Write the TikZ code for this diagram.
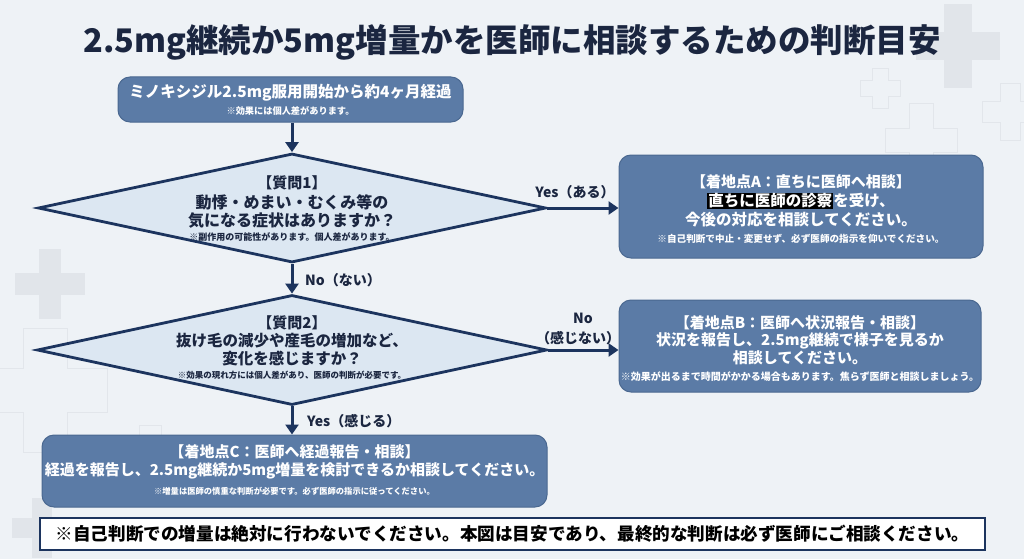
\documentclass[tikz,border=0pt]{standalone}
\usepackage{fontspec}
\setmainfont{Noto Sans CJK JP}
\usetikzlibrary{arrows.meta,shapes.geometric}
\definecolor{bgc}{HTML}{EEF2F6}
\definecolor{titlec}{HTML}{1B2640}
\definecolor{boxfill}{HTML}{5B7BA6}
\definecolor{boxline}{HTML}{4A6890}
\definecolor{diafill}{HTML}{DCE7F2}
\definecolor{navy}{HTML}{1C345E}
\definecolor{crossf}{HTML}{E1E5EA}
\definecolor{crossl}{HTML}{E2E6EB}
\newcommand\myfs[1]{\fontsize{#1}{#1}\selectfont}
\newcommand\plusfill[4]{\fill[crossf] ({#1-#3},{#2-#4}) rectangle ({#1+#3},{#2+#4}); \fill[crossf] ({#1-#4},{#2-#3}) rectangle ({#1+#4},{#2+#3});}
\newcommand\plusline[4]{\draw[crossl,line width=1pt] ({#1-#4},{#2-#3}) -- ({#1+#4},{#2-#3}) -- ({#1+#4},{#2-#4}) -- ({#1+#3},{#2-#4}) -- ({#1+#3},{#2+#4}) -- ({#1+#4},{#2+#4}) -- ({#1+#4},{#2+#3}) -- ({#1-#4},{#2+#3}) -- ({#1-#4},{#2+#4}) -- ({#1-#3},{#2+#4}) -- ({#1-#3},{#2-#4}) -- ({#1-#4},{#2-#4}) -- cycle;}
\begin{document}
\begin{tikzpicture}[x=1pt,y=-1pt,
  box/.style={draw=boxline,line width=1pt,fill=boxfill,rounded corners=12pt,inner sep=0pt},
  dia/.style={shape=diamond,draw=navy,line width=2.8pt,fill=diafill,inner sep=0pt},
  wt/.style={text=white,font=\bfseries,inner sep=0pt,anchor=center},
  dt/.style={text=titlec,font=\bfseries,inner sep=0pt,anchor=center},
  lbl/.style={text=titlec,font=\bfseries\myfs{14},inner sep=0pt},
  arr/.style={draw=navy,line width=3pt,-{Triangle[length=10pt,width=13pt]}}]
\useasboundingbox (0,0) rectangle (1024,559);
\fill[bgc] (0,0) rectangle (1024,559);
% decorative background crosses
\plusfill{958}{46}{42}{14}
\plusfill{50}{284}{35}{11}
\plusfill{42}{528}{30}{10}
\plusline{880}{89}{20}{8}
\plusline{921}{140}{36}{12}
\plusline{1010}{112}{28}{10}
\plusline{45}{390}{62}{22}
\plusline{150}{455}{30}{11}
% title
\node[dt,font=\bfseries\myfs{32.5}] (title) at (512,42) {2.5mg継続か5mg増量かを医師に相談するための判断目安};
% start
\node[box,minimum width=345pt,minimum height=45pt] (start) at (290.5,99.5) {};
\node[wt,font=\bfseries\myfs{15.5}] (start1) at (290.5,93) {ミノキシジル2.5mg服用開始から約4ヶ月経過};
\node[wt,font=\bfseries\myfs{9.2}] (start2) at (290.5,111) {※効果には個人差があります。};
% Q1
\node[dia,minimum width=508pt,minimum height=109pt] (q1) at (292,208) {};
\node[dt,font=\bfseries\myfs{15}] (q1a) at (292,183) {【質問1】};
\node[dt,font=\bfseries\myfs{16}] (q1b) at (292,202) {動悸・めまい・むくみ等の};
\node[dt,font=\bfseries\myfs{16}] (q1c) at (292,221) {気になる症状はありますか？};
\node[dt,font=\bfseries\myfs{9}] (q1d) at (292,237) {※副作用の可能性があります。個人差があります。};
% A
\node[box,minimum width=364pt,minimum height=103pt] (a) at (801,206.5) {};
\node[wt,font=\bfseries\myfs{15}] (a1) at (801,182) {【着地点A：直ちに医師へ相談】};
\node[wt,font=\bfseries\myfs{15.5}] (a2) at (801,201) {\setlength{\fboxsep}{1pt}\colorbox{black}{直ちに医師の診察}を受け、};
\node[wt,font=\bfseries\myfs{15.5}] (a3) at (801,220) {今後の対応を相談してください。};
\node[wt,font=\bfseries\myfs{9.6}] (a4) at (801,239) {※自己判断で中止・変更せず、必ず医師の指示を仰いでください。};
% Q2
\node[dia,minimum width=510pt,minimum height=110pt] (q2) at (292,350) {};
\node[dt,font=\bfseries\myfs{15}] (q2a) at (292,323) {【質問2】};
\node[dt,font=\bfseries\myfs{15.5}] (q2b) at (292,341) {抜け毛の減少や産毛の増加など、};
\node[dt,font=\bfseries\myfs{15.5}] (q2c) at (292,359) {変化を感じますか？};
\node[dt,font=\bfseries\myfs{8.5}] (q2d) at (292,375) {※効果の現れ方には個人差があり、医師の判断が必要です。};
% B
\node[box,minimum width=362pt,minimum height=92pt] (b) at (800,346) {};
\node[wt,font=\bfseries\myfs{15}] (b1) at (800,323) {【着地点B：医師へ状況報告・相談】};
\node[wt,font=\bfseries\myfs{15}] (b2) at (800,341) {状況を報告し、2.5mg継続で様子を見るか};
\node[wt,font=\bfseries\myfs{15}] (b3) at (800,358) {相談してください。};
\node[wt,font=\bfseries\myfs{10}] (b4) at (800,377) {※効果が出るまで時間がかかる場合もあります。焦らず医師と相談しましょう。};
% C
\node[box,minimum width=505pt,minimum height=72pt] (c) at (294.5,471) {};
\node[wt,font=\bfseries\myfs{15}] (c1) at (294.5,452) {【着地点C：医師へ経過報告・相談】};
\node[wt,font=\bfseries\myfs{15}] (c2) at (294.5,471) {経過を報告し、2.5mg継続か5mg増量を検討できるか相談してください。};
\node[wt,font=\bfseries\myfs{8.3}] (c3) at (294.5,491) {※増量は医師の慎重な判断が必要です。必ず医師の指示に従ってください。};
% note
\node[draw=navy,line width=2pt,fill=white,minimum width=945pt,minimum height=32pt,inner sep=0pt,text=black,font=\bfseries\myfs{17.6}] (note) at (512.5,534) {※自己判断での増量は絶対に行わないでください。本図は目安であり、最終的な判断は必ず医師にご相談ください。};
% connectors
\draw[arr] (start.south -| q1.north) -- (q1.north);
\draw[arr] (q1.east) -- (q1.east -| a.west);
\draw[arr] (q1.south) -- (q2.north);
\draw[arr] (q2.east) -- (q2.east -| b.west);
\draw[arr] (q2.south) -- (q2.south |- c.north);
% labels
\node[lbl] (l1) at (575,192) {Yes（ある）};
\node[lbl,anchor=west] (l2) at (305,280) {No（ない）};
\node[lbl] (l3) at (583,318) {No};
\node[lbl] (l4) at (578,338) {（感じない）};
\node[lbl,anchor=west] (l5) at (307,421) {Yes（感じる）};
\end{tikzpicture}
\end{document}
